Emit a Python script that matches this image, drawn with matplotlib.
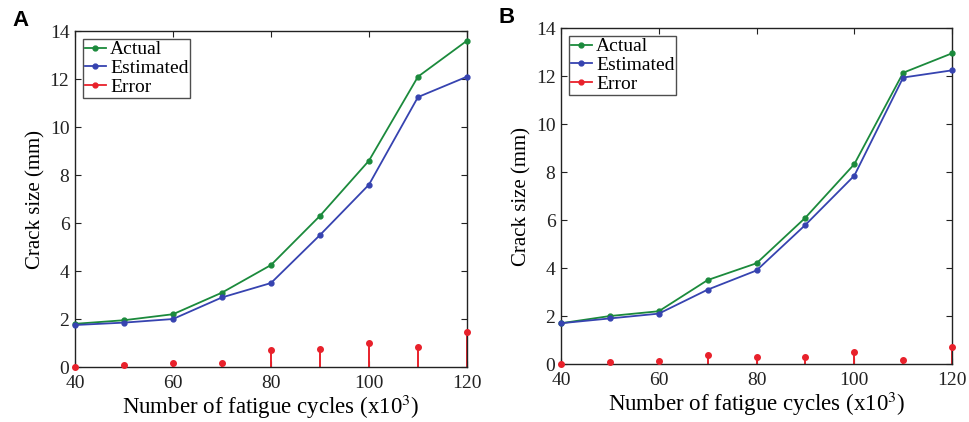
import numpy as np
import matplotlib.pyplot as plt

# ---------------------------------------------------------------------------
# data
cycles = [40, 50, 60, 70, 80, 90, 100, 110, 120]

actual_a = [1.8, 1.95, 2.2, 3.1, 4.25, 6.3, 8.6, 12.1, 13.6]
estimated_a = [1.75, 1.85, 2.0, 2.9, 3.5, 5.5, 7.6, 11.25, 12.1]
error_a = [0.0, 0.07, 0.18, 0.18, 0.72, 0.77, 1.0, 0.83, 1.47]

actual_b = [1.7, 2.0, 2.2, 3.5, 4.2, 6.1, 8.33, 12.14, 12.95]
estimated_b = [1.7, 1.9, 2.1, 3.1, 3.9, 5.8, 7.85, 11.94, 12.24]
error_b = [0.0, 0.08, 0.14, 0.39, 0.29, 0.3, 0.5, 0.18, 0.69]

x_ticks = [40, 60, 80, 100, 120]
y_ticks = [0, 2, 4, 6, 8, 10, 12, 14]

GREEN = '#1b8a3c'
BLUE = '#3643b0'
RED = '#e8212b'

plt.rcParams['font.family'] = ['Liberation Serif', 'DejaVu Serif']
plt.rcParams['mathtext.fontset'] = 'stix'

fig = plt.figure(figsize=(9.7, 4.22), dpi=100)
ax_a = fig.add_axes([0.0773, 0.1303, 0.4041, 0.796])
ax_b = fig.add_axes([0.5784, 0.1374, 0.4031, 0.796])

panels = [(ax_a, 'A', actual_a, estimated_a, error_a),
          (ax_b, 'B', actual_b, estimated_b, error_b)]

for ax, tag, act, est, err in panels:
    ax.plot(cycles, act, '-o', color=GREEN, lw=1.3, ms=3.5, label='Actual', clip_on=False, zorder=3)
    ax.plot(cycles, est, '-o', color=BLUE, lw=1.3, ms=3.5, label='Estimated', clip_on=False, zorder=3)
    ml, sl, bl = ax.stem(cycles, err, basefmt=' ')
    plt.setp(sl, color=RED, lw=1.4)
    plt.setp(ml, color=RED, ms=4, clip_on=False, zorder=4)
    err_handle, = ax.plot([], [], '-o', color=RED, lw=1.3, ms=3.5)

    ax.set_xlim(40, 120)
    ax.set_ylim(0, 14)
    ax.set_xticks(x_ticks)
    ax.set_yticks(y_ticks)
    ax.tick_params(direction='in', top=True, right=True, length=4, width=0.8,
                   labelsize=14, colors='#222222')
    ax.tick_params(axis='x', pad=6)
    ax.tick_params(axis='y', pad=4)
    for s in ax.spines.values():
        s.set_linewidth(1.0)
        s.set_color('#222222')

    ax.set_xlabel('Number of fatigue cycles (x10$^3$)', fontsize=16.5, labelpad=0)
    ax.set_ylabel('Crack size (mm)', fontsize=15, labelpad=3)

    h, l = ax.get_legend_handles_labels()
    leg = ax.legend(h[:2] + [err_handle], ['Actual', 'Estimated', 'Error'], loc='upper left',
                    fontsize=14, frameon=True, fancybox=False, edgecolor='#222222',
                    handlelength=1.1, handletextpad=0.2, borderpad=0.1,
                    labelspacing=0.05, borderaxespad=0.4)
    leg.get_frame().set_linewidth(1.0)

    ax.text(-0.16, 1.0, tag, transform=ax.transAxes, fontsize=16, fontweight='bold',
            family='Liberation Sans', ha='left', va='bottom')

fig.savefig('out.png', dpi=100)
